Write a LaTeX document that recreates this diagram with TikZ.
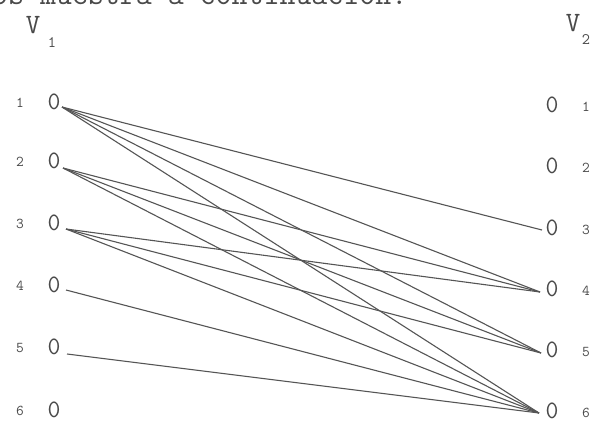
\documentclass[tikz,border=0pt]{standalone}
\definecolor{ink}{HTML}{4A4A4A}
\definecolor{edgecol}{HTML}{555555}
\begin{document}
\begin{tikzpicture}[x=1pt,y=-1pt,
  every node/.style={text=ink, inner sep=0pt},
  vtx/.style={font=\ttfamily\fontsize{25}{28}\selectfont},
  num/.style={font=\ttfamily\fontsize{15}{17}\selectfont},
  setlab/.style={font=\ttfamily\fontsize{28}{30}\selectfont},
  headtext/.style={font=\ttfamily\fontsize{31}{34}\selectfont},
  sub/.style={font=\ttfamily\fontsize{16}{18}\selectfont},
  edge/.style={draw=edgecol, line width=1.1pt}]
\useasboundingbox (0,0) rectangle (592,424);
\clip (0,0) rectangle (592,424);
\fill[white] (0,0) rectangle (592,424);
% cut-off heading line
\node[headtext, anchor=base west] (head) at (-8,4) {os muestra a continuación:};
% set labels
\node[setlab] (V1) at (33,25) {V};
\node[sub] (V1s) at (52,43) {1};
\node[setlab] (V2) at (573,23) {V};
\node[sub] (V2s) at (586,40) {2};
% left vertices
\foreach \i/\y in {1/102,2/161,3/223,4/285,5/347,6/410}{
  \node[num] (ln\i) at (20,\y+1) {\i};
  \node[vtx] (l\i) at (54,\y) {0};
}
% right vertices
\foreach \i/\y in {1/105,2/166,3/228,4/289,5/350,6/411}{
  \node[vtx] (r\i) at (552,\y) {0};
  \node[num] (rn\i) at (586,\y+2) {\i};
}
% edge end points
\coordinate (p1) at (62,107);
\coordinate (p2) at (63,168);
\coordinate (p3) at (66,229);
\coordinate (p4) at (66,290);
\coordinate (p5) at (67,354);
\coordinate (q3) at (542,230);
\coordinate (q4) at (540,292);
\coordinate (q5) at (541,353);
\coordinate (q6) at (539,413);
% edges
\foreach \a/\b in {p1/q3,p1/q4,p1/q5,p1/q6,
                   p2/q4,p2/q5,p2/q6,
                   p3/q4,p3/q5,p3/q6,
                   p4/q6,p5/q6}{
  \draw[edge] (\a) -- (\b);
}
\end{tikzpicture}
\end{document}
